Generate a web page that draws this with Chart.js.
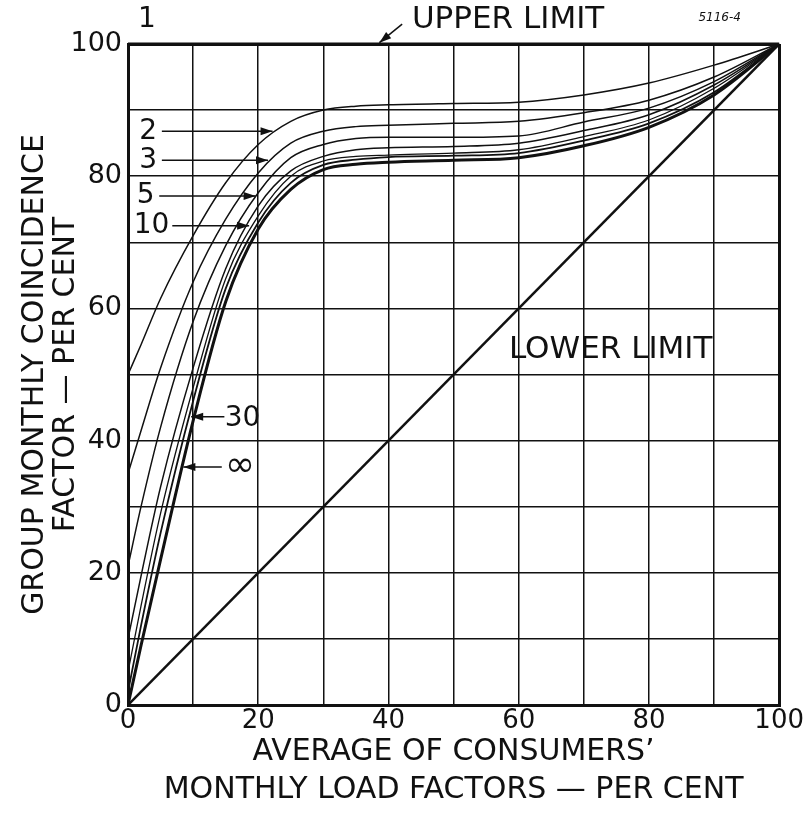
<!DOCTYPE html>
<html>
<head>
<meta charset="utf-8">
<script src="https://cdn.jsdelivr.net/npm/chart.js@4/dist/chart.umd.min.js"></script>
<style>
  html, body { margin: 0; padding: 0; background: #fff; }
  #wrap { width: 805px; height: 816px; }
</style>
</head>
<body>
<div id="wrap"><canvas id="cfChart" width="805" height="816"></canvas></div>
<script>
// average monthly load factor of consumers [%]
const loadFactor = [0, 2, 5, 10, 15, 20, 25, 30, 35, 40, 50, 60, 70, 80, 90, 100];
// group monthly coincidence factor [%] by number of consumers
const cf2   = [50, 54.5, 61.5, 71, 79, 84.8, 88.3, 90, 90.6, 90.8, 91.0, 91.2, 92.3, 94.1, 96.8, 100];
const cf3   = [35, 41.5, 51, 64, 73.5, 80.5, 85, 86.8, 87.5, 87.7, 88.0, 88.3, 89.6, 91.5, 95.0, 100];
const cf5   = [21, 30, 42, 58, 69.5, 77.5, 82.8, 84.8, 85.7, 85.9, 85.9, 86.1, 88.2, 90.3, 94.3, 100];
const cf10  = [10, 19.5, 33, 51, 66, 75.5, 80.8, 83, 84, 84.3, 84.5, 85.0, 86.9, 89.3, 93.8, 100];
const cf20  = [5, 15, 29, 48, 64.5, 74, 80, 82.3, 83, 83.2, 83.5, 84.0, 86.0, 88.5, 93.3, 100];
const cf30  = [2, 12, 26, 46, 63, 73, 79, 81.7, 82.5, 82.9, 83.1, 83.5, 85.4, 88.0, 92.7, 100];
const cfInf = [0, 9, 22, 43, 61, 72, 78, 81, 81.8, 82.1, 82.4, 82.8, 84.6, 87.4, 92.3, 100];
// limits
const limitX = [0, 100];
const upperLimit = [100, 100];
const lowerLimit = [0, 100];
// tick labels
const tickLabels = [0, 20, 40, 60, 80, 100];

const INK = '#111';
const FONT = "'DejaVu Sans', sans-serif";

const curves = [
  { label: '2', values: cf2, width: 1.5 },
  { label: '3', values: cf3, width: 1.5 },
  { label: '5', values: cf5, width: 1.5 },
  { label: '10', values: cf10, width: 1.5 },
  { label: '20', values: cf20, width: 1.3 },
  { label: '30', values: cf30, width: 1.8 },
  { label: '∞', values: cfInf, width: 3 }
];

const toPoints = (xs, ys) => xs.map((v, i) => ({ x: v, y: ys[i] }));

const datasets = curves.map(c => ({
  label: c.label,
  data: toPoints(loadFactor, c.values),
  showLine: true,
  borderColor: INK,
  borderWidth: c.width,
  cubicInterpolationMode: 'monotone',
  pointRadius: 0,
  fill: false
}));
datasets.push({
  label: '1', data: toPoints(limitX, upperLimit), showLine: true,
  borderColor: INK, borderWidth: 3, pointRadius: 0, clip: false
});
datasets.push({
  label: 'lower', data: toPoints(limitX, lowerLimit), showLine: true,
  borderColor: INK, borderWidth: 2.5, pointRadius: 0
});

// 矢印
function arrow(ctx, x1, y1, x2, y2) {
  const a = Math.atan2(y2 - y1, x2 - x1);
  ctx.lineWidth = 1.5;
  ctx.beginPath(); ctx.moveTo(x1, y1); ctx.lineTo(x2, y2); ctx.stroke();
  ctx.beginPath();
  ctx.moveTo(x2, y2);
  ctx.lineTo(x2 - 12 * Math.cos(a) + 4 * Math.sin(a), y2 - 12 * Math.sin(a) - 4 * Math.cos(a));
  ctx.lineTo(x2 - 12 * Math.cos(a) - 4 * Math.sin(a), y2 - 12 * Math.sin(a) + 4 * Math.cos(a));
  ctx.closePath(); ctx.fill();
}

// curve labels and arrows
const annotate = {
  id: 'annotate',
  afterDatasetsDraw(chart) {
    const { ctx, scales: { x, y } } = chart;
    const px = v => x.getPixelForValue(v);
    const py = v => y.getPixelForValue(v);
    ctx.save();
    ctx.fillStyle = INK;
    ctx.strokeStyle = INK;
    ctx.textBaseline = 'middle';
    ctx.textAlign = 'center';
    ctx.font = '28px ' + FONT;
    ctx.fillText('1', px(2.9), py(103.6));
    ctx.fillText('2', px(3.1), py(86.8));
    ctx.fillText('3', px(3.1), py(82.4));
    ctx.fillText('5', px(2.7), py(77));
    ctx.fillText('10', px(3.6), py(72.5));
    ctx.fillText('30', px(17.6), py(43.3));
    ctx.font = '36px ' + FONT;
    ctx.fillText('∞', px(17.2), py(36));
    arrow(ctx, px(5.2), py(86.8), px(22.2), py(86.8));
    arrow(ctx, px(5.2), py(82.4), px(21.5), py(82.4));
    arrow(ctx, px(4.8), py(77), px(19.6), py(77));
    arrow(ctx, px(6.8), py(72.5), px(18.6), py(72.5));
    arrow(ctx, px(14.8), py(43.6), px(9.7), py(43.6));
    arrow(ctx, px(14.4), py(36), px(8.5), py(36));
    arrow(ctx, px(42.1), py(103), px(38.6), py(100.2));
    ctx.textAlign = 'left';
    ctx.font = '31px ' + FONT;
    ctx.fillText('UPPER LIMIT', px(43.6), py(103.6));
    ctx.fillText('LOWER LIMIT', px(58.5), py(53.7));
    ctx.font = 'italic 12px ' + FONT;
    ctx.fillText('5116-4', px(87.6), py(104));
    ctx.restore();
  }
};

const gridWidth = c => (c.tick && (c.tick.value === 0 || c.tick.value === 100)) ? 3 : 1.5;

new Chart(document.getElementById('cfChart'), {
  type: 'scatter',
  data: { datasets: datasets },
  options: {
    responsive: false,
    animation: false,
    layout: { padding: { top: 44, right: 24, left: 0, bottom: 0 } },
    plugins: { legend: { display: false }, tooltip: { enabled: false } },
    scales: {
      x: {
        type: 'linear', min: 0, max: 100,
        afterFit: s => { s.height = 111; },
        ticks: {
          stepSize: 10, autoSkip: false, maxRotation: 0, padding: 1, color: INK,
          font: { family: FONT, size: 26 },
          callback: v => tickLabels.includes(v) ? String(v) : ''
        },
        grid: { color: INK, lineWidth: gridWidth, drawTicks: false },
        border: { color: INK, width: 3 },
        title: {
          display: true, color: INK,
          text: ['AVERAGE OF CONSUMERS\u2019', 'MONTHLY LOAD FACTORS \u2014 PER CENT'],
          font: { family: FONT, size: 30, lineHeight: 1.27 },
          padding: { top: 0, bottom: 7 }
        }
      },
      y: {
        type: 'linear', min: 0, max: 100,
        afterFit: s => { s.width = 128; },
        ticks: {
          stepSize: 10, autoSkip: false, padding: 6, color: INK,
          font: { family: FONT, size: 27 },
          callback: v => tickLabels.includes(v) ? String(v) : ''
        },
        grid: { color: INK, lineWidth: gridWidth, drawTicks: false },
        border: { color: INK, width: 3 },
        title: {
          display: true, color: INK,
          text: ['GROUP MONTHLY COINCIDENCE', 'FACTOR \u2014 PER CENT'],
          font: { family: FONT, size: 30, lineHeight: 1.05 },
          padding: { top: 19, bottom: 0 }
        }
      }
    }
  },
  plugins: [annotate]
});
</script>
</body>
</html>
